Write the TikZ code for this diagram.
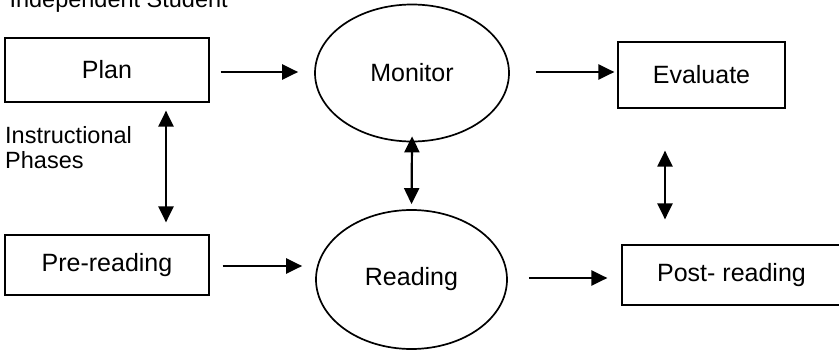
\documentclass[tikz,border=0pt]{standalone}
\usepackage{fontspec}
\setmainfont{Liberation Sans}
\usepackage{tikz}
\usetikzlibrary{arrows.meta,positioning,calc,shapes.geometric}

\begin{document}
\begin{tikzpicture}[x=1pt,y=-1pt,
  phasebox/.style={draw,line width=1.2pt,inner sep=0pt,font=\fontsize{25}{30}\selectfont},
  stepoval/.style={draw,ellipse,line width=1.7pt,inner sep=0pt,font=\fontsize{25}{30}\selectfont},
  flow/.style={line width=2.2pt,-{Triangle[length=16pt,width=15pt]}},
  both/.style={line width=2.2pt,{Triangle[length=16pt,width=15pt]}-{Triangle[length=16pt,width=15pt]}},
  side/.style={font=\fontsize{23.5}{25}\selectfont,align=left}]
\useasboundingbox (0,0) rectangle (839,351);
\node[side,anchor=base west] (title) at (6,7) {Independent Student};
\node[phasebox,minimum width=204pt,minimum height=64pt] (plan) at (107,70) {Plan};
\node[stepoval,minimum width=194pt,minimum height=137pt] (monitor) at (412,73) {Monitor};
\node[phasebox,minimum width=167pt,minimum height=66pt] (evaluate) at (701.5,75) {Evaluate};
\node[phasebox,minimum width=204pt,minimum height=60pt] (pre) at (107,265) {Pre-reading};
\node[stepoval,minimum width=191pt,minimum height=139pt] (reading) at (411.5,279.5) {Reading};
\node[phasebox,minimum width=219pt,minimum height=60pt] (post) at (731.5,275) {Post- reading};
\node[side,anchor=north west,inner sep=0pt] (phases) at (5,126) {Instructional\\Phases};
\draw[flow,shorten <=11pt,shorten >=16pt] (plan.east |- 0,72) -- (monitor.west |- 0,72);
\draw[flow,shorten <=26pt,shorten >=3pt] (monitor.east |- 0,72) -- (evaluate.west |- 0,72);
\draw[flow,shorten <=13pt,shorten >=13pt] (pre.east |- 0,266) -- (reading.west |- 0,266);
\draw[flow,shorten <=21pt,shorten >=14pt] (reading.east |- 0,278) -- (post.west |- 0,278);
\draw[both,shorten <=8pt,shorten >=12pt] ([xshift=59pt]plan.south) -- ([xshift=59pt]pre.north);
\draw[both,shorten <=-6pt,shorten >=5pt] (monitor.south) -- (reading.north);
\draw[both,shorten <=42pt,shorten >=25pt] ([xshift=-36.5pt]evaluate.south) -- ([xshift=-66.5pt]post.north);
\end{tikzpicture}
\end{document}
